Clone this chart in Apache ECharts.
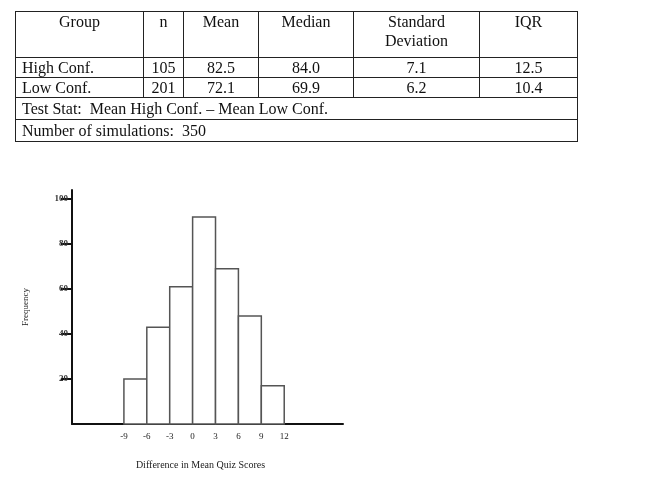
<!DOCTYPE html>
<html>
<head>
<meta charset="utf-8">
<script src="https://cdn.jsdelivr.net/npm/echarts@6/dist/echarts.min.js"></script>
<style>
  body { margin: 0; background: #fff; }
  #chart { position: absolute; left: 0; top: 0; width: 650px; height: 478px; }
  table { position: absolute; left: 15px; top: 11px; border-collapse: collapse;
          font-family: "Liberation Serif", serif; font-size: 16px; color: #111; }
  td { border: 1.5px solid #222; padding: 0 6px; line-height: 19px; text-align: center; }
  td.l { text-align: left; }
</style>
</head>
<body>
<div id="chart"></div>
<table id="tbl"></table>
<script>
// table contents
const headers = ['Group', 'n', 'Mean', 'Median', 'Standard<br>Deviation', 'IQR'];
const colWidths = [127, 39, 74, 94, 125, 97];
const groups = ['High Conf.', 'Low Conf.'];
const nVals = [105, 201];
const means = ['82.5', '72.1'];
const medians = ['84.0', '69.9'];
const sds = ['7.1', '6.2'];
const iqrs = ['12.5', '10.4'];
const notes = ['Test Stat:&nbsp; Mean High Conf. – Mean Low Conf.', 'Number of simulations:&nbsp; 350'];

// histogram
const binStarts = [-9, -6, -3, 0, 3, 6, 9];
const binWidth = 3;
const counts = [20, 43, 61, 92, 69, 48, 17];
const xTicks = [-9, -6, -3, 0, 3, 6, 9, 12];
const yTicks = [20, 40, 60, 80, 100];

// build the table
let html = '<tr style="height:46px;vertical-align:top">';
headers.forEach((h, i) => {
    html += '<td style="width:' + (colWidths[i] - 12) + 'px">' + h + '</td>';
});
html += '</tr>';
groups.forEach((g, i) => {
    html += '<tr><td class="l">' + g + '</td><td>' + nVals[i] + '</td><td>' + means[i] +
        '</td><td>' + medians[i] + '</td><td>' + sds[i] + '</td><td>' + iqrs[i] + '</td></tr>';
});
notes.forEach(t => {
    html += '<tr style="height:22px"><td class="l" colspan="6">' + t + '</td></tr>';
});
document.getElementById('tbl').innerHTML = html;

let chart = echarts.init(document.getElementById('chart'));
let font = 'Liberation Serif';

chart.setOption({
    animation: false,
    grid: { left: 72, right: 307, top: 190, bottom: 54 },
    xAxis: {
        type: 'value',
        min: -15.8,
        max: 19.7,
        splitLine: { show: false },
        axisLine: { onZero: false, lineStyle: { color: '#111', width: 2 } },
        axisTick: { show: false },
        axisLabel: { customValues: xTicks, fontFamily: font, fontSize: 9, color: '#222', margin: 8 },
        name: 'Difference in Mean Quiz Scores',
        nameLocation: 'middle',
        nameGap: 36,
        nameTextStyle: { fontFamily: font, fontSize: 10, color: '#222', padding: [0, 0, 0, -14] }
    },
    yAxis: {
        type: 'value',
        min: 0,
        max: 104,
        splitLine: { show: false },
        axisLine: { show: true, onZero: false, lineStyle: { color: '#111', width: 2 } },
        axisTick: { show: true, customValues: yTicks, length: 11, lineStyle: { width: 2, color: '#111' } },
        axisLabel: { customValues: yTicks, fontFamily: font, fontSize: 9, fontWeight: 'bold', color: '#333', margin: 4 },
        name: 'Frequency',
        nameLocation: 'middle',
        nameGap: 42,
        nameTextStyle: { fontFamily: font, fontSize: 9, color: '#222' }
    },
    series: [{
        type: 'custom',
        data: binStarts.map((s, i) => [s, s + binWidth, counts[i]]),
        renderItem: function (params, api) {
            let p0 = api.coord([api.value(0), 0]);
            let p1 = api.coord([api.value(1), api.value(2)]);
            return {
                type: 'rect',
                shape: { x: p0[0], y: p1[1], width: p1[0] - p0[0], height: p0[1] - p1[1] },
                style: { fill: '#fff', stroke: '#555', lineWidth: 1.5 }
            };
        }
    }]
});
</script>
</body>
</html>
